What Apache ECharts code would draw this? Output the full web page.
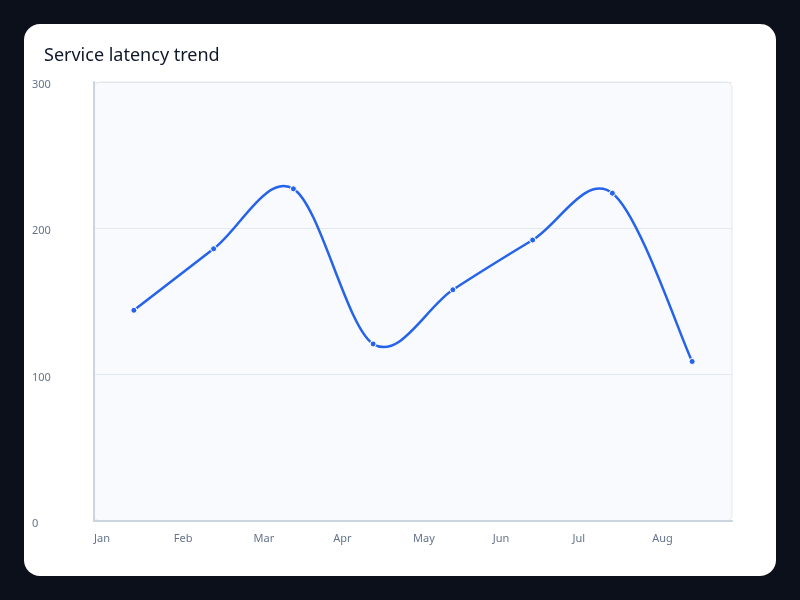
<!DOCTYPE html>
<html>
<head>
<meta charset="utf-8">
<script src="https://cdn.jsdelivr.net/npm/echarts@6/dist/echarts.min.js"></script>
<style>
  html, body { margin: 0; padding: 0; background: #0b101b; }
  .card {
    position: absolute; left: 24px; top: 24px; width: 752px; height: 552px;
    background: #ffffff; border-radius: 16px;
  }
  .chart { position: absolute; left: 0; top: 0; width: 800px; height: 600px; }
</style>
</head>
<body>
<div class="card"></div>
<div class="chart"></div>
<script>
// 月份
var months = ['Jan', 'Feb', 'Mar', 'Apr', 'May', 'Jun', 'Jul', 'Aug'];
// 延迟数据 (ms)
var latency = [144, 186, 227, 121, 158, 192, 224, 109];
// y 轴刻度
var yTicks = [0, 100, 200, 300];

(function () {
  var chartDom = document.querySelector('.chart');
  var myChart = echarts.init(chartDom);
  var option;

  // 刻度标签放在分界线上，所以多一个空位
  var tickLabels = months.concat(['']);
  var lineData = latency.map(function (v, i) { return [i, v]; });

  // catmull-rom 曲线，点坐标由坐标系换算
  function renderCurve(params, api) {
    if (params.dataIndex !== 0) return null;
    var pts = lineData.map(function (d) { return api.coord(d); });
    var n = pts.length;
    var path = 'M' + pts[0][0] + ' ' + pts[0][1];
    for (var i = 0; i < n - 1; i++) {
      var p0 = pts[i - 1] || pts[i];
      var p1 = pts[i];
      var p2 = pts[i + 1];
      var p3 = pts[i + 2] || pts[i + 1];
      var c1x = p1[0] + (p2[0] - p0[0]) / 6;
      var c1y = p1[1] + (p2[1] - p0[1]) / 6;
      var c2x = p2[0] - (p3[0] - p1[0]) / 6;
      var c2y = p2[1] - (p3[1] - p1[1]) / 6;
      path += ' C' + c1x + ' ' + c1y + ' ' + c2x + ' ' + c2y + ' ' + p2[0] + ' ' + p2[1];
    }
    return {
      type: 'path',
      shape: { pathData: path },
      style: { fill: 'none', stroke: '#2563eb', lineWidth: 2.5, lineJoin: 'round', lineCap: 'round' }
    };
  }

  option = {
    textStyle: { fontFamily: 'Noto Sans' },
    title: {
      text: 'Service latency trend',
      left: 44,
      top: 47,
      padding: 0,
      textStyle: {
        color: '#0f172a',
        fontSize: 18,
        fontWeight: 'normal',
        fontFamily: 'Noto Sans'
      }
    },
    grid: {
      left: 94,
      right: 68,
      top: 82,
      bottom: 79
    },
    // 绘图区背景 (圆角)
    graphic: [
      {
        type: 'rect',
        z: -10,
        shape: { x: 94, y: 82, width: 638, height: 439, r: 6 },
        style: { fill: '#f8fafd', stroke: '#e2e8f0', lineWidth: 1 }
      }
    ],
    xAxis: [
      {
        type: 'category',
        data: months,
        boundaryGap: true,
        position: 'bottom',
        axisLine: { lineStyle: { color: '#cbd5e1', width: 2 } },
        axisTick: { show: false },
        axisLabel: { show: false }
      },
      {
        type: 'category',
        data: tickLabels,
        boundaryGap: false,
        position: 'bottom',
        offset: 0,
        axisLine: { show: false },
        axisTick: { show: false },
        axisLabel: {
          interval: 0,
          align: 'left',
          margin: 12,
          color: '#64748b',
          fontSize: 11
        }
      }
    ],
    yAxis: {
      type: 'value',
      min: yTicks[0],
      max: yTicks[yTicks.length - 1],
      interval: 100,
      axisLine: { show: true, lineStyle: { color: '#cbd5e1', width: 2 } },
      axisTick: { show: false },
      axisLabel: {
        align: 'left',
        margin: 62,
        formatter: '{v|{value}}',
        rich: {
          v: { padding: [6, 0, 0, 0], color: '#64748b', fontSize: 11 }
        },
        color: '#64748b',
        fontSize: 11
      },
      splitLine: { lineStyle: { color: '#e2e8f0', width: 1 } }
    },
    series: [
      {
        name: 'Latency curve',
        type: 'custom',
        xAxisIndex: 0,
        data: lineData,
        encode: { x: 0, y: 1 },
        renderItem: renderCurve,
        z: 2,
        silent: true
      },
      {
        name: 'Latency',
        type: 'line',
        xAxisIndex: 0,
        data: latency,
        symbol: 'circle',
        symbolSize: 6,
        z: 3,
        lineStyle: { width: 0, opacity: 0 },
        itemStyle: { color: '#2563eb', borderColor: '#ffffff', borderWidth: 1 }
      }
    ]
  };

  option && myChart.setOption(option);
})();
</script>
</body>
</html>
